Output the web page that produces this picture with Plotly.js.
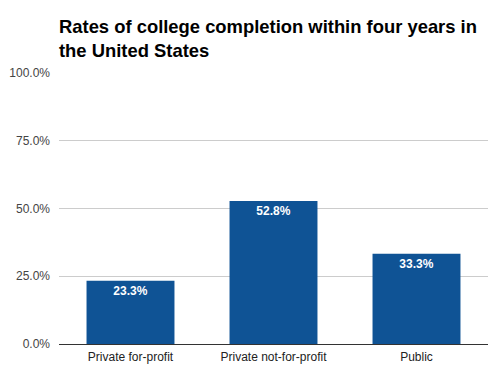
<!DOCTYPE html>
<html><head><meta charset="utf-8">
<script src="https://cdn.plot.ly/plotly-3.0.1.min.js"></script>
<style>html,body{margin:0;padding:0;background:#fff}</style>
</head><body>
<div id="chart" style="width:503px;height:378px"></div>
<script>
const categories = ["Private for-profit", "Private not-for-profit", "Public"];
const completionRates = [23.3, 52.8, 33.3];
const rateLabels = ["23.3%", "52.8%", "33.3%"];
const yTickVals = [0, 25, 50, 75, 100];
const yTickText = ["0.0%", "25.0%", "50.0%", "75.0%", "100.0%"];

const trace = {
  type: 'bar',
  x: categories,
  y: completionRates,
  text: rateLabels,
  textposition: 'inside',
  insidetextanchor: 'end',
  textangle: 0,
  textfont: {family: 'Liberation Sans, Arial, sans-serif', size: 12, color: '#ffffff', weight: 'bold'},
  marker: {color: '#0f5395'},
  width: 0.615,
  hoverinfo: 'none',
  cliponaxis: false
};

const layout = {
  width: 503, height: 378,
  margin: {l: 59, r: 15, t: 73, b: 34, pad: 0},
  paper_bgcolor: '#fff', plot_bgcolor: '#fff',
  font: {family: 'Liberation Sans, Arial, sans-serif', size: 12, color: '#222'},
  title: {
    text: '<b>Rates of college completion within four years in<br>the United States</b>',
    font: {family: 'Liberation Sans, Arial, sans-serif', size: 18.4, color: '#000'},
    x: 0, xref: 'paper', xanchor: 'left',
    y: 0.913, yref: 'container', yanchor: 'top'
  },
  showlegend: false,
  bargap: 0.385,
  xaxis: {
    type: 'category',
    showgrid: false, zeroline: false,
    showline: false,
    ticks: '',
    tickfont: {size: 12, color: '#222'},
    ticklabelstandoff: 4
  },
  yaxis: {
    range: [0, 100],
    tickvals: yTickVals, ticktext: yTickText,
    showgrid: true, gridcolor: '#cccccc', gridwidth: 1,
    zeroline: true, zerolinecolor: '#333333', zerolinewidth: 1,
    showline: false, ticks: '',
    tickfont: {size: 12, color: '#444'},
    ticklabelstandoff: 8,
    fixedrange: true
  }
};

Plotly.newPlot('chart', [trace], layout, {displayModeBar: false, staticPlot: true});
</script>
</body></html>
